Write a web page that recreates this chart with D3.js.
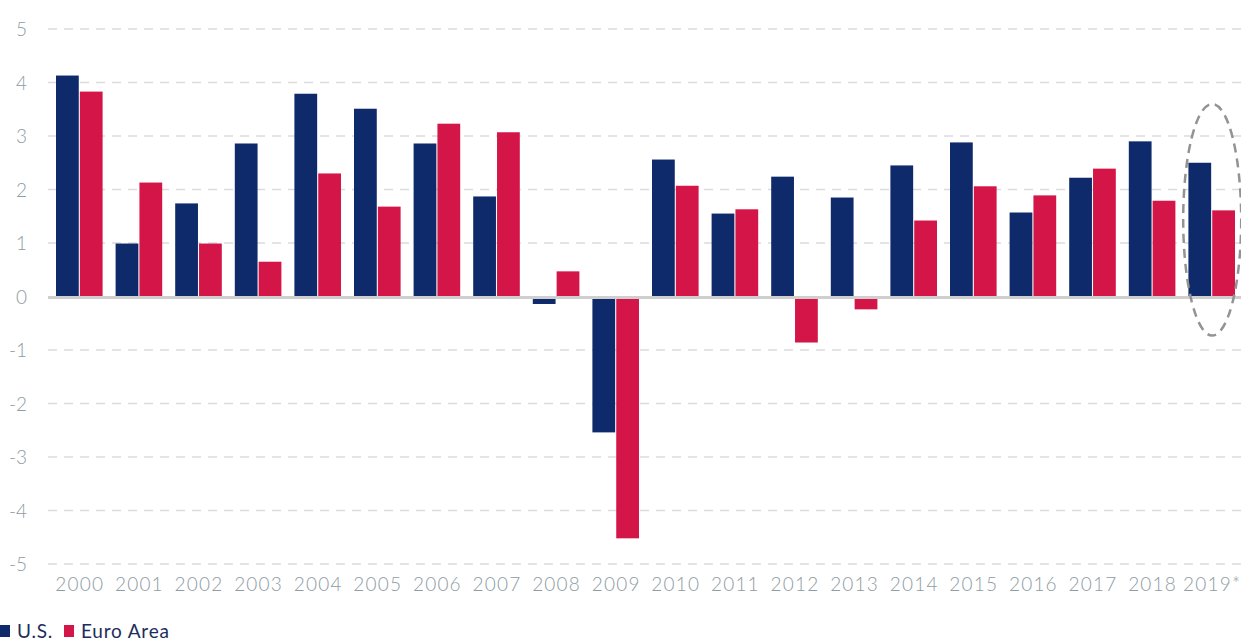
<!DOCTYPE html>
<html>
<head>
<meta charset="utf-8">
<script src="https://cdn.jsdelivr.net/npm/d3@7"></script>
<style>
  body { margin: 0; background: #fff; }
  text { font-family: Lato, "Open Sans", sans-serif; }
</style>
</head>
<body>
<div id="chart"></div>
<script>
const years = ["2000","2001","2002","2003","2004","2005","2006","2007","2008","2009",
               "2010","2011","2012","2013","2014","2015","2016","2017","2018","2019*"];
const usGrowth = [4.13, 0.99, 1.74, 2.86, 3.79, 3.51, 2.86, 1.87, -0.14, -2.54,
                  2.56, 1.55, 2.24, 1.85, 2.45, 2.88, 1.57, 2.22, 2.90, 2.50];
const euroGrowth = [3.83, 2.13, 0.99, 0.65, 2.30, 1.68, 3.23, 3.07, 0.47, -4.52,
                    2.07, 1.63, -0.86, -0.24, 1.42, 2.06, 1.89, 2.39, 1.79, 1.61];
const seriesNames = ["U.S.", "Euro Area"];
const yTicks = [-5, -4, -3, -2, -1, 0, 1, 2, 3, 4, 5];

const width = 1241, height = 643;
const colors = ["#0f2a6a", "#d41548"];

let svg = d3.select("#chart")
    .append("svg")
    .attr("width", width)
    .attr("height", height);

let x0 = d3.scaleBand().domain(years).range([49, 1241]).padding(0);
let x1 = d3.scaleBand().domain(seriesNames)
    .range([7, x0.bandwidth() - 6]).paddingInner(0.045);
let y = d3.scaleLinear().domain([-5, 5]).range([564, 29]);

// grid
svg.append("g").selectAll("line")
    .data(yTicks.filter(d => d !== 0))
    .enter().append("line")
    .attr("x1", 48).attr("x2", width)
    .attr("y1", d => y(d)).attr("y2", d => y(d))
    .attr("stroke", "#dcdcdc")
    .attr("stroke-width", 1.5)
    .attr("stroke-dasharray", "9,7");

// y labels
svg.append("g").selectAll("text")
    .data(yTicks)
    .enter().append("text")
    .attr("x", 27)
    .attr("y", d => y(d) + 7)
    .attr("text-anchor", "end")
    .style("font-size", "19px")
    .style("font-weight", 300)
    .style("fill", "#8e9ca3")
    .text(d => d);

// bars
let rows = years.map((yr, i) => ({ year: yr, values: [usGrowth[i], euroGrowth[i]] }));
let group = svg.append("g").selectAll("g")
    .data(rows)
    .enter().append("g")
    .attr("transform", d => `translate(${x0(d.year)},0)`);

group.selectAll("rect")
    .data(d => d.values.map((v, k) => ({ key: seriesNames[k], value: v, k: k })))
    .enter().append("rect")
    .attr("x", d => x1(d.key))
    .attr("width", x1.bandwidth())
    .attr("y", d => y(Math.max(0, d.value)))
    .attr("height", d => Math.abs(y(d.value) - y(0)))
    .attr("fill", d => colors[d.k]);

// zero line
svg.append("line")
    .attr("x1", 48).attr("x2", width)
    .attr("y1", y(0) + 1).attr("y2", y(0) + 1)
    .attr("stroke", "#cfcfcf")
    .attr("stroke-width", 3);

// x labels
svg.append("g").selectAll("text")
    .data(years)
    .enter().append("text")
    .attr("x", d => x0(d) + x0.bandwidth() / 2 + 1)
    .attr("y", 591)
    .attr("text-anchor", "middle")
    .style("font-size", "19px")
    .style("font-weight", 300)
    .style("letter-spacing", "1.2px")
    .style("fill", "#8e9ca3")
    .text(d => d);

// highlight ellipse for 2019
let last = years[years.length - 1];
svg.append("ellipse")
    .attr("cx", x0(last) + x0.bandwidth() / 2 + 1)
    .attr("cy", (y(3.6) + y(-0.73)) / 2)
    .attr("rx", 29)
    .attr("ry", (y(-0.73) - y(3.6)) / 2)
    .attr("fill", "none")
    .attr("stroke", "#939393")
    .attr("stroke-width", 2.5)
    .attr("stroke-dasharray", "9,6");

// legend
let legend = svg.append("g").attr("transform", "translate(0,632)");
let legendX = [0, 64];
seriesNames.forEach((name, k) => {
    legend.append("rect")
        .attr("x", legendX[k]).attr("y", -7)
        .attr("width", 10).attr("height", 12)
        .attr("fill", colors[k]);
    legend.append("text")
        .attr("x", legendX[k] + 17).attr("y", 6)
        .style("font-size", "19px")
        .style("letter-spacing", "0.8px")
        .style("fill", "#1c2d5c")
        .text(name);
});
</script>
</body>
</html>
